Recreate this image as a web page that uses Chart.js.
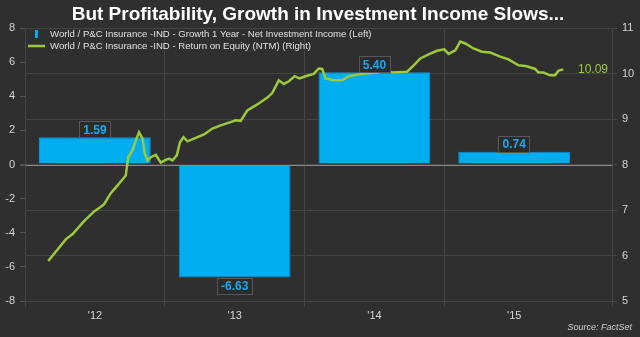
<!DOCTYPE html>
<html>
<head>
<meta charset="utf-8">
<script src="https://cdn.jsdelivr.net/npm/chart.js@4.4.1/dist/chart.umd.min.js"></script>
<style>
  body { margin: 0; background: #2f2f2f; }
  #wrap { width: 640px; height: 337px; }
</style>
</head>
<body>
<div id="wrap"><canvas id="chart" width="640" height="337"></canvas></div>
<script>
// yearly growth in net investment income (left axis)
var barYears = [2012.5, 2013.5, 2014.5, 2015.5];
var barValues = [1.59, -6.63, 5.40, 0.74];

// return on equity, NTM (right axis), as fractional years
var roeDates = [
  2012.166, 2012.293, 2012.341, 2012.424, 2012.495, 2012.543, 2012.566, 2012.614,
  2012.662, 2012.721, 2012.738, 2012.769, 2012.793, 2012.816, 2012.841, 2012.857,
  2012.876, 2012.900, 2012.936, 2012.971, 2013.007, 2013.031, 2013.055, 2013.086,
  2013.109, 2013.134, 2013.162, 2013.209, 2013.281, 2013.341, 2013.400, 2013.471,
  2013.507, 2013.543, 2013.591, 2013.662, 2013.734, 2013.769, 2013.816, 2013.852,
  2013.888, 2013.929, 2013.964, 2014.007, 2014.066, 2014.102, 2014.126, 2014.150,
  2014.209, 2014.269, 2014.316, 2014.400, 2014.519, 2014.595, 2014.626, 2014.734,
  2014.781, 2014.829, 2014.888, 2014.948, 2015.000, 2015.031, 2015.079, 2015.114,
  2015.150, 2015.209, 2015.269, 2015.329, 2015.400, 2015.459, 2015.531, 2015.591,
  2015.650, 2015.674, 2015.709, 2015.757, 2015.793, 2015.816, 2015.852
];
var roeValues = [
  5.88, 6.36, 6.47, 6.76, 6.97, 7.07, 7.13, 7.37,
  7.54, 7.76, 8.16, 8.31, 8.53, 8.71, 8.57, 8.24,
  8.09, 8.16, 8.21, 8.04, 8.10, 8.13, 8.09, 8.20,
  8.49, 8.60, 8.51, 8.57, 8.66, 8.79, 8.86, 8.93,
  8.97, 8.96, 9.19, 9.32, 9.47, 9.57, 9.85, 9.77,
  9.83, 9.94, 9.89, 9.94, 9.99, 10.11, 10.10, 9.89,
  9.85, 9.85, 9.94, 9.99, 10.02, 10.07, 10.02, 10.04,
  10.18, 10.33, 10.42, 10.50, 10.53, 10.43, 10.51, 10.70,
  10.66, 10.55, 10.48, 10.46, 10.37, 10.31, 10.18, 10.16,
  10.10, 10.02, 10.02, 9.96, 9.96, 10.06, 10.09
];

var yearTicks = [2012, 2013, 2014, 2015, 2016.2];
var yearLabels = ["'12", "'13", "'14", "'15", ""];

var barName = "World / P&C Insurance -IND - Growth 1 Year - Net Investment Income (Left)";
var lineName = "World / P&C Insurance -IND - Return on Equity (NTM) (Right)";

var BLUE = "#00adef";
var GREEN = "#9dc93b";
var GRID = "#454545";
var TEXT = "#d4d4d4";

Chart.defaults.font.family = "'Liberation Sans', Arial, sans-serif";
Chart.defaults.font.size = 11;
Chart.defaults.color = TEXT;

var barData = barYears.map(function(x, i) { return { x: x, y: barValues[i] }; });
var lineData = roeDates.map(function(x, i) { return { x: x, y: roeValues[i] }; });

// title, legend, value boxes and source note
var decorations = {
  id: "decorations",
  afterDatasetsDraw: function(chart) {
    var ctx = chart.ctx;
    var area = chart.chartArea;
    ctx.save();

    ctx.fillStyle = "#ffffff";
    ctx.font = "bold 19px 'Liberation Sans', Arial, sans-serif";
    ctx.textAlign = "center";
    ctx.textBaseline = "middle";
    ctx.fillText("But Profitability, Growth in Investment Income Slows...", 318, 15);

    // legend
    ctx.font = "9.6px 'Liberation Sans', Arial, sans-serif";
    ctx.textAlign = "left";
    ctx.fillStyle = BLUE;
    ctx.fillRect(35, 30, 3, 8);
    ctx.strokeStyle = GREEN;
    ctx.lineWidth = 2.5;
    ctx.beginPath();
    ctx.moveTo(28, 46);
    ctx.lineTo(45, 46);
    ctx.stroke();
    ctx.fillStyle = "#e0e0e0";
    ctx.fillText(barName, 50, 34);
    ctx.fillText(lineName, 50, 46);

    // boxed value labels on the bars
    var meta = chart.getDatasetMeta(0);
    ctx.font = "bold 12px 'Liberation Sans', Arial, sans-serif";
    ctx.textAlign = "center";
    meta.data.forEach(function(bar, i) {
      var v = barValues[i];
      var txt = v.toFixed(2);
      var w = ctx.measureText(txt).width + 8;
      var h = 16;
      var top = v >= 0 ? bar.y - h : bar.y;
      ctx.fillStyle = "#2b2b2b";
      ctx.fillRect(bar.x - w / 2, top, w, h);
      ctx.strokeStyle = "#575757";
      ctx.lineWidth = 1;
      ctx.strokeRect(Math.round(bar.x - w / 2) + 0.5, Math.round(top) + 0.5, Math.round(w), h);
      ctx.fillStyle = "#1aa8ee";
      ctx.fillText(txt, bar.x, top + h / 2 + 1);
    });

    // last value of the line
    var pts = chart.getDatasetMeta(1).data;
    var last = pts[pts.length - 1];
    ctx.fillStyle = GREEN;
    ctx.font = "12px 'Liberation Sans', Arial, sans-serif";
    ctx.textAlign = "right";
    ctx.fillText(roeValues[roeValues.length - 1].toFixed(2), area.right - 4, last.y);

    ctx.fillStyle = "#cfcfcf";
    ctx.font = "italic 9px 'Liberation Sans', Arial, sans-serif";
    ctx.fillText("Source: FactSet", 632, 327);
    ctx.restore();
  }
};

new Chart(document.getElementById("chart"), {
  data: {
    datasets: [
      {
        type: "bar",
        label: barName,
        data: barData,
        xAxisID: "x",
        yAxisID: "yL",
        backgroundColor: BLUE,
        borderColor: "#1391d8",
        borderWidth: 1,
        barPercentage: 1,
        categoryPercentage: 0.8,
        order: 2
      },
      {
        type: "line",
        label: lineName,
        data: lineData,
        xAxisID: "x",
        yAxisID: "yR",
        borderColor: GREEN,
        borderWidth: 2.5,
        pointRadius: 0,
        tension: 0,
        order: 1
      }
    ]
  },
  options: {
    responsive: false,
    animation: false,
    layout: { padding: { top: 28, left: 0, right: 0, bottom: 0 } },
    plugins: { legend: { display: false }, tooltip: { enabled: false } },
    scales: {
      x: {
        type: "linear",
        min: 2012,
        max: 2016.2,
        offset: false,
        afterBuildTicks: function(scale) {
          scale.ticks = yearTicks.map(function(v) { return { value: v }; });
        },
        afterFit: function(scale) { scale.height = 36; },
        ticks: {
          autoSkip: false,
          maxRotation: 0,
          labelOffset: 70,
          padding: 2,
          color: TEXT,
          callback: function(value, i) { return yearLabels[i]; }
        },
        grid: { offset: false, color: GRID, tickColor: GRID, tickLength: 6 },
        border: { display: true, color: GRID }
      },
      yL: {
        type: "linear",
        position: "left",
        min: -8,
        max: 8,
        afterFit: function(scale) { scale.width = 25; },
        ticks: { stepSize: 2, padding: 5, color: TEXT },
        grid: {
          drawOnChartArea: true,
          tickLength: 5,
          tickColor: "#555555",
          color: function(c) { return c.tick && c.tick.value === 0 ? "#8a8a8a" : "transparent"; },
          lineWidth: function(c) { return c.tick && c.tick.value === 0 ? 2 : 1; }
        },
        border: { display: true, color: GRID }
      },
      yR: {
        type: "linear",
        position: "right",
        min: 5,
        max: 11,
        afterFit: function(scale) { scale.width = 28; },
        ticks: { stepSize: 1, padding: 5, color: TEXT },
        grid: { drawOnChartArea: true, color: GRID, tickColor: GRID, tickLength: 5 },
        border: { display: true, color: GRID }
      }
    }
  },
  plugins: [decorations]
});
</script>
</body>
</html>
